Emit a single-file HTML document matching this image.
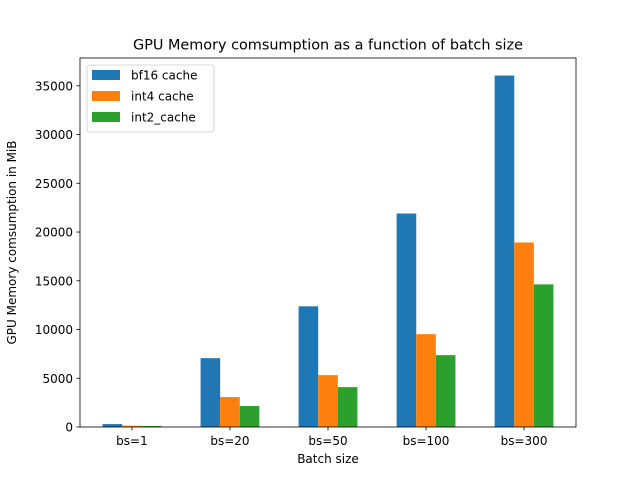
<!DOCTYPE html>
<html><head><meta charset="utf-8"><style>
body{margin:0;background:#fff}
svg text{font-family:"DejaVu Sans","Liberation Sans",sans-serif;fill:#000}
</style></head><body>
<svg id="chart" width="640" height="480" xmlns="http://www.w3.org/2000/svg">
<rect width="640" height="480" fill="#fff"/>
<text x="328" y="49.5" font-size="14.4" text-anchor="middle">GPU Memory comsumption as a function of batch size</text>
<g id="bars"></g>
<g id="axes"></g>
<text x="328" y="463" font-size="12" text-anchor="middle">Batch size</text>
<text transform="translate(16,242.5) rotate(-90)" font-size="12" text-anchor="middle">GPU Memory comsumption in MiB</text>
<rect x="80" y="58" width="496" height="369" fill="none" stroke="#000" stroke-width="0.8"/>
<g id="legend">
<rect x="87" y="65" width="127" height="67" rx="3" fill="#fff" fill-opacity="0.8" stroke="#ccc" stroke-width="0.8"/>
</g>
</svg>
<script>
const categories=["bs=1","bs=20","bs=50","bs=100","bs=300"];
const bf16=[300,7060,12380,21900,36050];
const int4=[130,3070,5320,9520,18930];
const int2=[100,2150,4090,7370,14630];
const seriesNames=["bf16 cache","int4 cache","int2_cache"];
const yTicks=[0,5000,10000,15000,20000,25000,30000,35000];
const colors=["#1f77b4","#ff7f0e","#2ca02c"];
const NS="http://www.w3.org/2000/svg";
const L=80,R=576,T=58,B=427;
const allMax=Math.max(...bf16,...int4,...int2);
const yMax=allMax*1.05;
const y=v=>B-(v/yMax)*(B-T);
const xmin=-0.53,xmax=(categories.length-1)+0.53;
const x=i=>L+(i-xmin)/(xmax-xmin)*(R-L);
const bw=0.2*(R-L)/(xmax-xmin);
function mk(t,a,p){const e=document.createElementNS(NS,t);for(const k in a)e.setAttribute(k,a[k]);p.appendChild(e);return e;}
const bars=document.getElementById('bars');
[bf16,int4,int2].forEach((s,si)=>{
  s.forEach((v,i)=>{
    const cx=x(i)+(si-1)*bw;
    const r=mk('rect',{x:cx-bw/2,y:y(v),width:bw,height:B-y(v),fill:colors[si]},bars);
    
    
  });
});
const ax=document.getElementById('axes');
categories.forEach((c,i)=>{
  mk('line',{x1:x(i),x2:x(i),y1:B,y2:B+3.5,stroke:'#000','stroke-width':0.8},ax);
  const t=mk('text',{x:x(i),y:B+18,'font-size':12,'text-anchor':'middle'},ax);
  t.textContent=c;
  
  
});
yTicks.forEach(v=>{
  mk('line',{x1:L-3.5,x2:L,y1:y(v),y2:y(v),stroke:'#000','stroke-width':0.8},ax);
  const t=mk('text',{x:L-7,y:y(v)+4.5,'font-size':12,'text-anchor':'end'},ax);
  t.textContent=v;
  
  
});
const lg=document.getElementById('legend');
seriesNames.forEach((n,i)=>{
  const yy=70+i*21;
  const r=mk('rect',{x:92,y:yy,width:28,height:10,fill:colors[i]},lg);
  
  
  const t=mk('text',{x:131,y:yy+9.5,'font-size':12},lg);
  t.textContent=n;
  
  
});
</script>
</body></html>
